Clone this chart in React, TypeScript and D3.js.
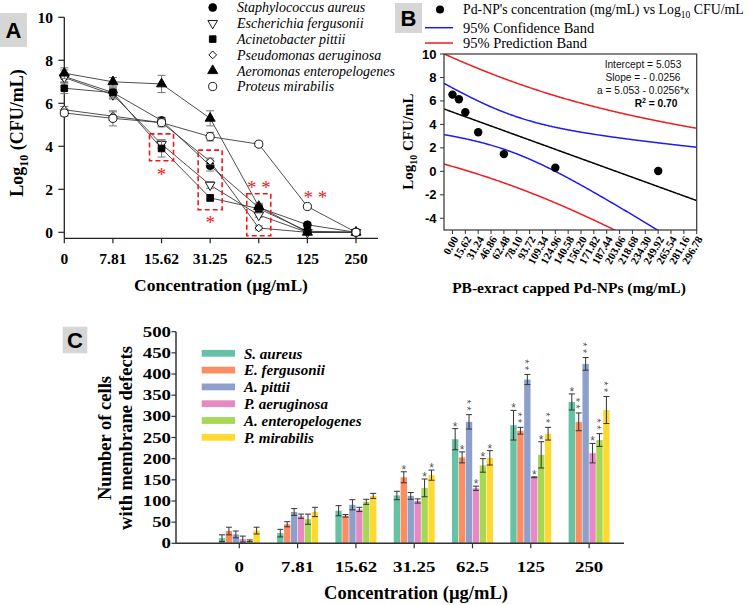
import React from "react";
import * as d3 from "d3";

// ---------------- Panel A data ----------------
const concLabels = ["0", "7.81", "15.62", "31.25", "62.5", "125", "250"];
const speciesFull = [
  "Staphylococcus aureus",
  "Escherichia fergusonii",
  "Acinetobacter pittii",
  "Pseudomonas aeruginosa",
  "Aeromonas enteropelogenes",
  "Proteus mirabilis",
];
const logSaureus = [7.25, 6.5, 5.2, 3.1, 1.15, 0.35, 0];
const logEfergusonii = [7.2, 6.4, 4.1, 2.2, 0.8, 0, 0];
const logApittii = [6.7, 6.5, 3.9, 1.6, 1.1, 0.05, 0];
const logPaeruginosa = [5.7, 5.4, 5.1, 3.3, 0.2, 0, 0];
const logAentero = [7.4, 7.0, 6.9, 5.3, 1.2, 0, 0];
const logPmirabilis = [5.55, 5.3, 5.1, 4.45, 4.1, 1.2, 0];
const errSaureus = [0.3, 0.2, 0.15, 0.25, 0.15, 0.1, 0];
const errEfergusonii = [0.2, 0.2, 0.2, 0.15, 0.1, 0, 0];
const errApittii = [0.25, 0.25, 0.4, 0.15, 0.2, 0.05, 0];
const errPaeruginosa = [0.15, 0.2, 0.15, 0.15, 0.1, 0, 0];
const errAentero = [0.25, 0.2, 0.4, 0.35, 0.15, 0, 0];
const errPmirabilis = [0.15, 0.35, 0.2, 0.2, 0.1, 0.05, 0];
const yTicksA = [0, 2, 4, 6, 8, 10];
// significance boxes / stars (in data units)
const boxCats = ["15.62", "31.25", "62.5"];
const boxLow = [3.33, 1.05, -0.16];
const boxHigh = [4.58, 3.82, 1.79];
const starCatsA = ["15.62", "31.25", "62.5", "125"];
const starValA = [2.8, 0.57, 2.2, 1.69];
const starTextA = ["*", "*", "* *", "* *"];

// ---------------- Panel B data ----------------
const pdConc = [0, 7.81, 15.62, 31.25, 62.5, 125, 250];
const logCfu = [6.54, 6.14, 5.04, 3.33, 1.47, 0.31, 0.03];
const bXTickLabels = [
  "0.00", "15.62", "31.24", "46.86", "62.48", "78.10", "93.72", "109.34", "124.96", "140.58",
  "156.20", "171.82", "187.44", "203.06", "218.68", "234.30", "249.92", "265.54", "281.16", "296.78",
];
const bYTicks = [-4, -2, 0, 2, 4, 6, 8, 10];
const regressionLines = ["Intercept = 5.053", "Slope = - 0.0256", "a = 5.053 - 0.0256*x"];
const r2Value = "0.70";
const tCrit = 2.571; // t(0.975, df = 5)

// ---------------- Panel C data ----------------
const speciesShort = ["S. aureus", "E. fergusonii", "A. pittii", "P. aeruginosa", "A. enteropelogenes", "P. mirabilis"];
const cSaureus = [12, 24, 77, 113, 246, 279, 334];
const cEfergusonii = [29, 45, 65, 156, 203, 266, 287];
const cApittii = [21, 74, 91, 112, 287, 387, 424];
const cPaeruginosa = [10, 64, 80, 100, 130, 156, 213];
const cAentero = [6, 57, 98, 131, 184, 209, 244];
const cPmirabilis = [30, 74, 112, 161, 202, 259, 315];
const eSaureus = [8, 9, 12, 10, 25, 35, 19];
const eEfergusonii = [9, 6, 3, 13, 13, 8, 21];
const eApittii = [8, 8, 12, 8, 17, 12, 15];
const ePaeruginosa = [7, 5, 5, 5, 5, 1, 23];
const eAentero = [2, 12, 6, 21, 16, 31, 15];
const ePmirabilis = [8, 11, 6, 12, 17, 15, 32];
const sSaureus = [0, 0, 0, 0, 1, 1, 1];
const sEfergusonii = [0, 0, 0, 1, 1, 2, 2];
const sApittii = [0, 0, 0, 0, 2, 2, 2];
const sPaeruginosa = [0, 0, 0, 0, 1, 1, 1];
const sAentero = [0, 0, 0, 1, 1, 1, 2];
const sPmirabilis = [0, 0, 0, 1, 1, 2, 2];
const yTicksC = [0, 50, 100, 150, 200, 250, 300, 350, 400, 450, 500];

const SERIF = "'Liberation Serif', 'Times New Roman', serif";
const SANS = "'Liberation Sans', Arial, sans-serif";
const barColors = d3.schemeSet2.slice(0, 6);

const markerStyles = [
  { type: d3.symbolCircle, fill: "#000", rot: 0, size: 48 },
  { type: d3.symbolTriangle, fill: "#fff", rot: 180, size: 40 },
  { type: d3.symbolSquare, fill: "#000", rot: 0, size: 44 },
  { type: d3.symbolSquare, fill: "#fff", rot: 45, size: 30 },
  { type: d3.symbolTriangle, fill: "#000", rot: 0, size: 44 },
  { type: d3.symbolCircle, fill: "#fff", rot: 0, size: 52 },
];

function Marker({ i, x, y }: { i: number; x: number; y: number }) {
  const m = markerStyles[i];
  const p = d3.symbol().type(m.type).size(m.size)()!;
  return (
    <path d={p} transform={`translate(${x},${y}) rotate(${m.rot})`} fill={m.fill} stroke="#000" strokeWidth={0.9} />
  );
}

function PanelLabel({ x, y, w, h, t }: { x: number; y: number; w: number; h: number; t: string }) {
  return (
    <g>
      <rect x={x} y={y} width={w} height={h} fill="#d6d6d6" />
      <text x={x + w / 2} y={y + h / 2} dy="0.36em" textAnchor="middle" fontFamily={SANS} fontWeight="bold" fontSize={22}>
        {t}
      </text>
    </g>
  );
}

function PanelA() {
  const series = [logSaureus, logEfergusonii, logApittii, logPaeruginosa, logAentero, logPmirabilis];
  const errs = [errSaureus, errEfergusonii, errApittii, errPaeruginosa, errAentero, errPmirabilis];
  const x = d3.scalePoint<string>().domain(concLabels).range([64.3, 356]);
  const y = d3.scaleLinear().domain([0, 10]).range([232.3, 17.3]);
  const axisY = 238.3;
  const line = d3
    .line<number>()
    .x((_, i) => x(concLabels[i])!)
    .y((d) => y(d));
  return (
    <g>
      <PanelLabel x={0} y={13} w={27} h={34} t="A" />
      {/* axes */}
      <line x1={64.3} x2={64.3} y1={y(10)} y2={axisY} stroke="#222" strokeWidth={1.3} />
      <line x1={64.3} x2={378} y1={axisY} y2={axisY} stroke="#222" strokeWidth={1.3} />
      {yTicksA.map((t) => (
        <g key={t}>
          <line x1={58.3} x2={64.3} y1={y(t)} y2={y(t)} stroke="#222" strokeWidth={1.2} />
          <text x={53} y={y(t)} dy="0.35em" textAnchor="end" fontFamily={SERIF} fontWeight="bold" fontSize={15.5}>
            {t}
          </text>
        </g>
      ))}
      {concLabels.map((c) => (
        <g key={c}>
          <line x1={x(c)} x2={x(c)} y1={axisY} y2={axisY + 5} stroke="#222" strokeWidth={1.2} />
          <text x={x(c)} y={258.3} dy="0.35em" textAnchor="middle" fontFamily={SERIF} fontWeight="bold" fontSize={15.5}>
            {c}
          </text>
        </g>
      ))}
      <text x={221} y={285} dy="0.35em" textAnchor="middle" fontFamily={SERIF} fontWeight="bold" fontSize={17.5}>
        Concentration (µg/mL)
      </text>
      <text transform="translate(17,133) rotate(-90)" dy="0.35em" textAnchor="middle" fontFamily={SERIF} fontWeight="bold" fontSize={18}>
        Log<tspan dy="5" fontSize={12}>10</tspan>
        <tspan dy="-5"> (CFU/mL)</tspan>
      </text>
      {/* lines */}
      {series.map((s, i) => (
        <path key={i} d={line(s)!} fill="none" stroke="#3a3a3a" strokeWidth={0.9} />
      ))}
      {/* error bars + markers */}
      {series.map((s, i) => (
        <g key={i}>
          {s.map((v, j) =>
            errs[i][j] > 0 ? (
              <g key={j} stroke="#777" strokeWidth={1}>
                <line x1={x(concLabels[j])} x2={x(concLabels[j])} y1={y(v - errs[i][j])} y2={y(v + errs[i][j])} />
                <line x1={x(concLabels[j])! - 4} x2={x(concLabels[j])! + 4} y1={y(v - errs[i][j])} y2={y(v - errs[i][j])} />
                <line x1={x(concLabels[j])! - 4} x2={x(concLabels[j])! + 4} y1={y(v + errs[i][j])} y2={y(v + errs[i][j])} />
              </g>
            ) : null
          )}
          {s.map((v, j) => (
            <Marker key={j} i={i} x={x(concLabels[j])!} y={y(v)} />
          ))}
        </g>
      ))}
      {/* red dashed boxes */}
      {boxCats.map((c, i) => (
        <rect
          key={c}
          x={x(c)! - 12}
          y={y(boxHigh[i])}
          width={24}
          height={y(boxLow[i]) - y(boxHigh[i])}
          fill="none"
          stroke="#f01818"
          strokeWidth={1.6}
          strokeDasharray="5,3"
        />
      ))}
      {starCatsA.map((c, i) => (
        <text
          key={c}
          x={x(c)! + (c === "125" ? 8 : 0)}
          y={y(starValA[i]) + 8.5}
          textAnchor="middle"
          fontFamily={SERIF}
          fontSize={19}
          fill="#f01818"
        >
          {starTextA[i]}
        </text>
      ))}
      {/* legend */}
      {speciesFull.map((s, i) => (
        <g key={s}>
          <Marker i={i} x={212.7} y={7.5 + i * 15.8} />
          <text x={237} y={7.5 + i * 15.8} dy="0.35em" fontFamily={SERIF} fontStyle="italic" fontSize={14}>
            {s}
          </text>
        </g>
      ))}
    </g>
  );
}

function PanelB() {
  const x = d3.scaleLinear().domain([-10.3, 296.78]).range([444, 696.7]);
  const y = d3.scaleLinear().domain([-5, 10]).range([230, 54]);
  const n = pdConc.length;
  const xbar = d3.mean(pdConc)!;
  const ybar = d3.mean(logCfu)!;
  const sxx = d3.sum(pdConc, (v) => (v - xbar) ** 2);
  const sxy = d3.sum(pdConc, (v, i) => (v - xbar) * (logCfu[i] - ybar));
  const slope = sxy / sxx;
  const intercept = ybar - slope * xbar;
  const sse = d3.sum(pdConc, (v, i) => (logCfu[i] - (intercept + slope * v)) ** 2);
  const s = Math.sqrt(sse / (n - 2));
  const xs = d3.range(-10.3, 297, 1);
  const fit = (v: number) => intercept + slope * v;
  const conf = (v: number) => tCrit * s * Math.sqrt(1 / n + (v - xbar) ** 2 / sxx);
  const pred = (v: number) => tCrit * s * Math.sqrt(1 + 1 / n + (v - xbar) ** 2 / sxx);
  const curve = (f: (v: number) => number) =>
    d3
      .line<number>()
      .x((v) => x(v))
      .y((v) => y(f(v)))(xs)!;
  return (
    <g>
      <PanelLabel x={395} y={3} w={27} h={30} t="B" />
      <defs>
        <clipPath id="clipB">
          <rect x={444} y={54} width={252.7} height={176} />
        </clipPath>
      </defs>
      <g clipPath="url(#clipB)" fill="none" strokeWidth={1.5}>
        <path d={curve((v) => fit(v) + pred(v))} stroke="#ee1c1c" />
        <path d={curve((v) => fit(v) - pred(v))} stroke="#ee1c1c" />
        <path d={curve((v) => fit(v) + conf(v))} stroke="#1c1cf0" />
        <path d={curve((v) => fit(v) - conf(v))} stroke="#1c1cf0" />
        <path d={curve(fit)} stroke="#000" />
      </g>
      <rect x={444} y={54} width={252.7} height={176} fill="none" stroke="#333" strokeWidth={1.2} />
      {pdConc.map((v, i) => (
        <circle key={i} cx={x(v)} cy={y(logCfu[i])} r={4.2} fill="#000" />
      ))}
      {bYTicks.map((t) => (
        <g key={t}>
          <line x1={440} x2={444} y1={y(t)} y2={y(t)} stroke="#333" />
          <text x={436.5} y={y(t)} dy="0.35em" textAnchor="end" fontFamily={SANS} fontWeight="bold" fontSize={13}>
            {t}
          </text>
        </g>
      ))}
      {bXTickLabels.map((lbl) => (
        <g key={lbl}>
          <line x1={x(+lbl)} x2={x(+lbl)} y1={230} y2={234} stroke="#333" />
          <text
            transform={`translate(${x(+lbl) + 3},${237}) rotate(-60)`}
            dy="0.35em"
            textAnchor="end"
            fontFamily={SERIF}
            fontWeight="bold"
            fontSize={11}
          >
            {lbl}
          </text>
        </g>
      ))}
      <text x={569} y={287.3} dy="0.35em" textAnchor="middle" fontFamily={SERIF} fontWeight="bold" fontSize={15.5}>
        PB-exract capped Pd-NPs (mg/mL)
      </text>
      <text transform="translate(408,141.7) rotate(-90)" dy="0.35em" textAnchor="middle" fontFamily={SERIF} fontWeight="bold" fontSize={15}>
        Log<tspan dy="4" fontSize={10}>10</tspan>
        <tspan dy="-4"> CFU/mL</tspan>
      </text>
      {regressionLines.map((t, i) => (
        <text key={t} x={643} y={64 + i * 13.1} dy="0.35em" textAnchor="middle" fontFamily={SANS} fontSize={10.2} fill="#111">
          {t}
        </text>
      ))}
      <text x={656} y={103.3} dy="0.35em" textAnchor="middle" fontFamily={SANS} fontWeight="bold" fontSize={10.2}>
        R<tspan dy="-4" fontSize={7}>2</tspan>
        <tspan dy="4"> = {r2Value}</tspan>
      </text>
      {/* legend */}
      <circle cx={440} cy={9.5} r={4} fill="#000" />
      <text x={463} y={9.5} dy="0.35em" fontFamily={SERIF} fontSize={13.8}>
        Pd-NP's concentration (mg/mL) vs Log<tspan dy="4" fontSize={9.5}>10</tspan>
        <tspan dy="-4"> CFU/mL</tspan>
      </text>
      <line x1={425} x2={453} y1={27.7} y2={27.7} stroke="#1c1cf0" strokeWidth={1.5} />
      <text x={463} y={27.7} dy="0.35em" fontFamily={SERIF} fontSize={14.5}>
        95% Confidence Band
      </text>
      <line x1={425} x2={453} y1={43} y2={43} stroke="#ee1c1c" strokeWidth={1.5} />
      <text x={463} y={43} dy="0.35em" fontFamily={SERIF} fontSize={14.5}>
        95% Prediction Band
      </text>
    </g>
  );
}

function PanelC() {
  const values = [cSaureus, cEfergusonii, cApittii, cPaeruginosa, cAentero, cPmirabilis];
  const errs = [eSaureus, eEfergusonii, eApittii, ePaeruginosa, eAentero, ePmirabilis];
  const stars = [sSaureus, sEfergusonii, sApittii, sPaeruginosa, sAentero, sPmirabilis];
  const x = d3.scaleBand<string>().domain(concLabels).range([210.15, 618.25]);
  const inner = d3.scaleBand<string>().domain(speciesShort).range([-20.5, 20.5]).paddingInner(0.08);
  const y = d3.scaleLinear().domain([0, 500]).range([543.3, 331.7]);
  const cx = (c: string) => x(c)! + x.bandwidth() / 2;
  const bw = inner.bandwidth();
  return (
    <g>
      <PanelLabel x={62.7} y={326.7} w={24.6} h={26.6} t="C" />
      {values.map((vals, si) =>
        vals.map((v, j) => {
          const bx = cx(concLabels[j]) + inner(speciesShort[si])!;
          const mid = bx + bw / 2;
          const e = errs[si][j];
          const top = y(v + e);
          const nStars = stars[si][j];
          return (
            <g key={`${si}-${j}`}>
              <rect x={bx} y={y(v)} width={bw} height={y(0) - y(v)} fill={barColors[si]} />
              <g stroke="#333" strokeWidth={1}>
                <line x1={mid} x2={mid} y1={y(v - e)} y2={top} />
                <line x1={mid - 3} x2={mid + 3} y1={top} y2={top} />
                <line x1={mid - 3} x2={mid + 3} y1={y(v - e)} y2={y(v - e)} />
              </g>
              {nStars === 1 ? (
                <text x={mid} y={top + 2} textAnchor="middle" fontFamily={SANS} fontSize={12} fill="#555">
                  *
                </text>
              ) : null}
              {nStars === 2 ? (
                <text
                  transform={`translate(${mid},${top - 8.5}) rotate(90)`}
                  dy="0.58em"
                  textAnchor="middle"
                  letterSpacing={2.4}
                  fontFamily={SANS}
                  fontSize={11}
                  fill="#555"
                >
                  **
                </text>
              ) : null}
            </g>
          );
        })
      )}
      <line x1={176} x2={176} y1={y(500)} y2={y(0)} stroke="#333" strokeWidth={1.5} />
      <line x1={176} x2={624} y1={y(0)} y2={y(0)} stroke="#333" strokeWidth={1.5} />
      {yTicksC.map((t) => (
        <g key={t}>
          <line x1={171.5} x2={176} y1={y(t)} y2={y(t)} stroke="#333" strokeWidth={1.2} />
          <text
            transform={`translate(171,${y(t)}) scale(1.3,1)`}
            dy="0.35em"
            textAnchor="end"
            fontFamily={SERIF}
            fontWeight="bold"
            fontSize={14.5}
          >
            {t}
          </text>
        </g>
      ))}
      {concLabels.map((c) => (
        <g key={c}>
          <line x1={cx(c)} x2={cx(c)} y1={y(0)} y2={y(0) + 5} stroke="#333" strokeWidth={1.2} />
          <text
            transform={`translate(${cx(c)},566.7) scale(1.3,1)`}
            dy="0.35em"
            textAnchor="middle"
            fontFamily={SERIF}
            fontWeight="bold"
            fontSize={14.5}
          >
            {c}
          </text>
        </g>
      ))}
      <text x={416} y={593} dy="0.35em" textAnchor="middle" fontFamily={SERIF} fontWeight="bold" fontSize={18.5}>
        Concentration (µg/mL)
      </text>
      <text transform="translate(105,438) rotate(-90)" dy="0.35em" textAnchor="middle" fontFamily={SERIF} fontWeight="bold" fontSize={18.5}>
        Number of cells
      </text>
      <text transform="translate(126,438) rotate(-90)" dy="0.35em" textAnchor="middle" fontFamily={SERIF} fontWeight="bold" fontSize={18.5}>
        with membrane defects
      </text>
      {speciesShort.map((s, i) => (
        <g key={s}>
          <rect x={201.7} y={353.3 + i * 16.8 - 3.4} width={33.3} height={6.8} fill={barColors[i]} />
          <text x={244} y={353.3 + i * 16.8} dy="0.35em" fontFamily={SERIF} fontWeight="bold" fontStyle="italic" fontSize={15}>
            {s}
          </text>
        </g>
      ))}
    </g>
  );
}

export default function App() {
  return (
    <svg
      width={749}
      height={605}
      viewBox="0 0 749 605"
      style={{ position: "absolute", left: 0, top: 0, background: "#fff" }}
    >
      <rect width={749} height={605} fill="#fff" />
      <PanelA />
      <PanelB />
      <PanelC />
    </svg>
  );
}
